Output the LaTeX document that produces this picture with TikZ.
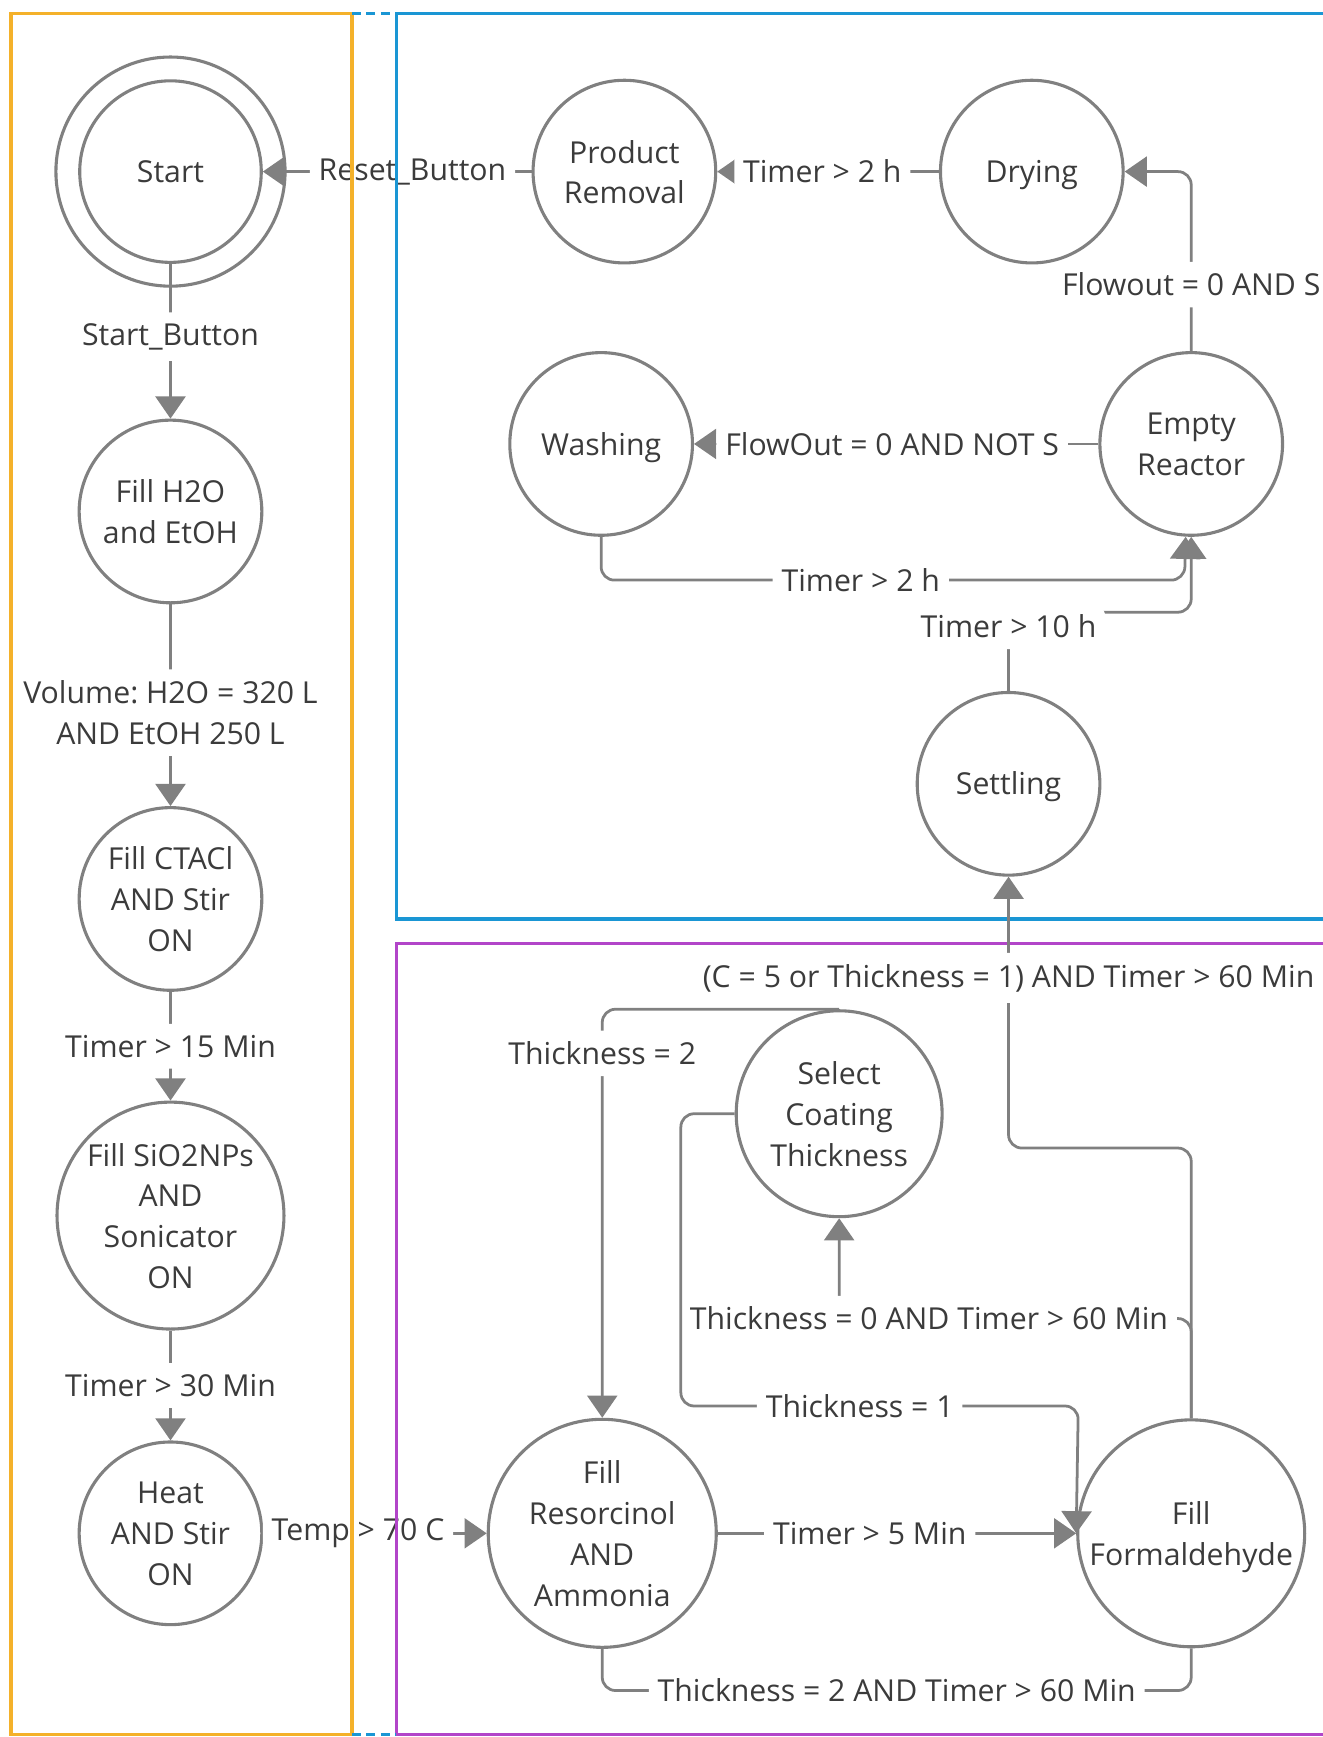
\documentclass[tikz,border=0pt]{standalone}
\usepackage{fontspec}
\setmainfont{Open Sans}
\usetikzlibrary{arrows.meta}
\frenchspacing
\definecolor{lg}{HTML}{808080}
\definecolor{tx}{HTML}{3b3b3b}
\definecolor{laneO}{HTML}{F4B12A}
\definecolor{laneB}{HTML}{1A96D4}
\definecolor{laneP}{HTML}{B245C9}
\newcommand\nodestrut{\rule[-8pt]{0pt}{36pt}}
\tikzset{
  st/.style={circle, draw=lg, line width=2.8pt, inner sep=0pt, align=center, text=tx,
    font=\fontsize{27.3}{37}\selectfont, execute at begin node=\nodestrut},
  sl/.style={execute at end node=\nodestrut},
  mltext/.style={align=center, text=tx, font=\fontsize{27.3}{37}\selectfont, inner sep=0pt, yshift=-0.5pt},
  lbl/.style={fill=white, text=tx, font=\fontsize{27.3}{37}\selectfont, inner xsep=8pt, inner ysep=10pt, align=center},
  edge/.style={draw=lg, line width=2.5pt, -{Triangle[length=20pt,width=27pt]}, rounded corners=12pt},
  plain/.style={draw=lg, line width=2.5pt, rounded corners=12pt},
  lane/.style={line width=3pt}
}
\begin{document}
\frenchspacing
\begin{tikzpicture}[x=1pt,y=-1pt]
\useasboundingbox (0,0) rectangle (1195,1569);
% states
\node[st, sl, minimum size=164pt] (start) at (154,155) {Start};
\node[st, sl, minimum size=207pt] (startout) at (154,155) {};
\node[st, minimum size=165pt, label={[mltext]center:{Fill H2O\\and EtOH}}] (h2o) at (154,462) {};
\node[st, minimum size=165pt, label={[mltext]center:{Fill CTACl\\AND Stir\\ON}}] (ctacl) at (154,812) {};
\node[st, minimum size=205pt, label={[mltext]center:{Fill SiO2NPs\\AND\\Sonicator\\ON}}] (sio2) at (154,1098) {};
\node[st, minimum size=165pt, label={[mltext]center:{Heat\\AND Stir\\ON}}] (heat) at (154,1385) {};
\node[st, minimum size=165pt, label={[mltext]center:{Product\\Removal}}] (prod) at (564,155) {};
\node[st, sl, minimum size=165pt] (dry) at (932,155) {Drying};
\node[st, sl, minimum size=165pt] (wash) at (543,401) {Washing};
\node[st, minimum size=165pt, label={[mltext]center:{Empty\\Reactor}}] (empty) at (1076,401) {};
\node[st, sl, minimum size=165pt] (settle) at (911,708) {Settling};
\node[st, minimum size=186pt, label={[mltext]center:{Select\\Coating\\Thickness}}] (select) at (758,1006) {};
\node[st, minimum size=206pt, label={[mltext]center:{Fill\\Resorcinol\\AND\\Ammonia}}] (res) at (544,1385) {};
\node[st, minimum size=205pt, label={[mltext]center:{Fill\\\smash{Formaldehyde}}}] (form) at (1076,1385) {};
% transitions
\draw[edge] (start.south) -- node[lbl,pos=0.47]{Start\_Button} (h2o.north);
\draw[edge] (h2o.south) -- node[lbl,pos=0.537]{Volume: H2O = 320 L\\AND EtOH 250 L} (ctacl.north);
\draw[edge] (ctacl.south) -- node[lbl]{Timer > 15 Min} (sio2.north);
\draw[edge] (sio2.south) -- node[lbl]{Timer > 30 Min} (heat.north);
\draw[edge] (heat.east) -- node[lbl,pos=0.424]{Temp > 70 C} (res.west);
\draw[edge] (res.east) -- node[lbl,pos=0.424]{Timer > 5 Min} (form.west);
\draw[plain] (res.south) -- (544,1527) -- node[lbl]{Thickness = 2 AND Timer > 60 Min} (1076,1527) -- (form.south);
\draw[edge] (form.north) -- (1076,1037) -- (911,1037) -- node[lbl,pos=0.627] (clbl) {(C = 5 or Thickness = 1) AND Timer > 60 Min} (settle.south);
\draw[edge] (form.north) -- (1076,1191) -- node[lbl,pos=0.745]{Thickness = 0 AND Timer > 60 Min} (758,1191) -- (select.south);
\draw[edge] (select.west) -| (615,1270) -- node[lbl,pos=0.45]{Thickness = 1} (974,1270) -- (form.west);
\draw[edge] (select.north) -| node[lbl,pos=0.554]{Thickness = 2} (res.north);
\draw[edge] (settle.north) -- node[lbl,pos=0.82]{Timer > 10 h} (911,553) -- (1076,553) -- (empty.south);
\draw[edge] (wash.south) -- (543,524) -- node[lbl,pos=0.445]{Timer > 2 h} (1070,524) -- ([xshift=-5pt]empty.south);
\draw[edge] (empty.west) -- node[lbl,pos=0.51]{FlowOut = 0 AND NOT S} (wash.east);
\draw[edge] (empty.north) |- node[lbl,pos=0.185]{Flowout = 0 AND S} (dry.east);
\draw[edge] (dry.west) -- node[lbl,pos=0.526]{Timer > 2 h} (prod.east);
\draw[edge] (prod.west) -- node[lbl,pos=0.443]{Reset\_Button} (start.east);
% lanes
\draw[lane, laneO] (10,12) rectangle (318,1567);
\draw[lane, laneB] (1200,12) -- (358,12) -- (358,830) -- (1200,830);
\draw[lane, laneP] (1200,852) -- (358,852) -- (358,1567) -- (1200,1567);
\draw[lane, laneB, dash pattern=on 8pt off 5pt] (318,12) -- (358,12);
\draw[lane, laneB, dash pattern=on 8pt off 5pt] (318,1567) -- (358,1567);
% connector passing over the lane borders
\draw[plain, shorten >=24pt] (clbl.north) -- (settle.south);
\end{tikzpicture}
\end{document}
